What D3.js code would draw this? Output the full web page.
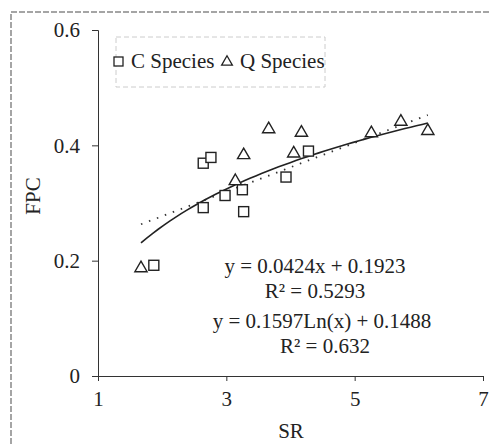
<!DOCTYPE html>
<html>
<head>
<meta charset="utf-8">
<script src="https://cdn.jsdelivr.net/npm/d3@7"></script>
<style>
  body { margin: 0; background: #fff; }
  svg text { font-family: "Liberation Serif", "DejaVu Serif", serif; }
</style>
</head>
<body>
<svg id="chart" width="491" height="444"></svg>
<script>
// C species (squares)
const cSR  = [1.87, 2.64, 2.76, 2.64, 2.98, 3.25, 3.27, 3.93, 4.28];
const cFPC = [0.192, 0.369, 0.379, 0.292, 0.313, 0.323, 0.285, 0.345, 0.390];
// Q species (triangles)
const qSR  = [1.67, 3.14, 3.27, 3.66, 4.05, 4.17, 5.26, 5.72, 6.14];
const qFPC = [0.187, 0.338, 0.383, 0.428, 0.386, 0.422, 0.421, 0.441, 0.425];

const xTicks = [1, 3, 5, 7];
const yTicks = [0, 0.2, 0.4, 0.6];

// trend lines
const linCoef = [0.0424, 0.1923];
const logCoef = [0.1597, 0.1488];
const labels = ["y = 0.0424x + 0.1923", "R² = 0.5293", "y = 0.1597Ln(x) + 0.1488", "R² = 0.632"];

const svg = d3.select("#chart"),
    width = +svg.attr("width"),
    height = +svg.attr("height");

const fs = "21px";

// outer frame (dashed, scanned look)
svg.append("path")
    .attr("d", "M11,444 L11,12 L491,12")
    .attr("fill", "none")
    .attr("stroke", "#888")
    .attr("stroke-width", 1.5)
    .attr("stroke-dasharray", "6,2");

const x = d3.scaleLinear().domain([1, 7]).range([98, 483]);
const y = d3.scaleLinear().domain([0, 0.6]).range([376, 30]);

// axes
svg.append("g")
    .attr("transform", "translate(0,376)")
    .call(d3.axisBottom(x).tickValues(xTicks).tickSize(5).tickPadding(10).tickFormat(d3.format("d")))
    .call(g => g.attr("font-family", null).attr("font-size", null))
    .call(g => g.selectAll("text").style("font-size", fs).attr("fill", "#222"))
    .call(g => g.selectAll("line,path").attr("stroke", "#333"));

svg.append("g")
    .attr("transform", "translate(98,0)")
    .call(d3.axisLeft(y).tickValues(yTicks).tickSize(6).tickPadding(12)
        .tickFormat(d => d === 0 ? "0" : d3.format(".1f")(d)))
    .call(g => g.attr("font-family", null).attr("font-size", null))
    .call(g => g.selectAll("text").style("font-size", fs).attr("fill", "#222"))
    .call(g => g.selectAll("line,path").attr("stroke", "#333"));

// axis titles
svg.append("text")
    .attr("x", 291).attr("y", 438)
    .attr("text-anchor", "middle")
    .style("font-size", fs).attr("fill", "#222")
    .text("SR");

svg.append("text")
    .attr("transform", "translate(40,196) rotate(-90)")
    .attr("text-anchor", "middle")
    .style("font-size", fs).attr("fill", "#222")
    .text("FPC");

// trend lines
const xMin = d3.min(qSR.concat(cSR)), xMax = d3.max(qSR.concat(cSR));
const xs = d3.range(0, 51).map(i => xMin + (xMax - xMin) * i / 50);
const line = d3.line().x(d => x(d[0])).y(d => y(d[1]));

svg.append("path")
    .datum(xs.map(v => [v, linCoef[0] * v + linCoef[1]]))
    .attr("d", line)
    .attr("fill", "none")
    .attr("stroke", "#333")
    .attr("stroke-width", 1.8)
    .attr("stroke-dasharray", "1.5,7");

svg.append("path")
    .datum(xs.map(v => [v, logCoef[0] * Math.log(v) + logCoef[1]]))
    .attr("d", line)
    .attr("fill", "none")
    .attr("stroke", "#222")
    .attr("stroke-width", 1.6);

// points
const cData = cSR.map((v, i) => [v, cFPC[i]]);
const qData = qSR.map((v, i) => [v, qFPC[i]]);

svg.append("g").selectAll("rect")
    .data(cData)
    .join("rect")
      .attr("x", d => x(d[0]) - 5)
      .attr("y", d => y(d[1]) - 5)
      .attr("width", 10).attr("height", 10)
      .attr("fill", "#fff")
      .attr("stroke", "#222")
      .attr("stroke-width", 1.4);

const tri = d3.symbol().type(d3.symbolTriangle).size(65);
svg.append("g").selectAll("path")
    .data(qData)
    .join("path")
      .attr("transform", d => `translate(${x(d[0])},${y(d[1])})`)
      .attr("d", tri)
      .attr("fill", "#fff")
      .attr("stroke", "#222")
      .attr("stroke-width", 1.4);

// legend
svg.append("rect")
    .attr("x", 116).attr("y", 37).attr("width", 209).attr("height", 50)
    .attr("fill", "none")
    .attr("stroke", "#ccc")
    .attr("stroke-dasharray", "5,3");

svg.append("rect")
    .attr("x", 114).attr("y", 57).attr("width", 9).attr("height", 9)
    .attr("fill", "#fff").attr("stroke", "#222").attr("stroke-width", 1.3);
svg.append("text")
    .attr("x", 131).attr("y", 68)
    .style("font-size", fs).attr("fill", "#222")
    .text("C Species");
svg.append("path")
    .attr("transform", "translate(227,62)")
    .attr("d", d3.symbol().type(d3.symbolTriangle).size(50))
    .attr("fill", "#fff").attr("stroke", "#222").attr("stroke-width", 1.3);
svg.append("text")
    .attr("x", 240).attr("y", 68)
    .style("font-size", fs).attr("fill", "#222")
    .text("Q Species");

// equations
const eqY = [273, 298, 328, 353];
const eqX = [315, 315, 322, 325];
svg.append("g").selectAll("text")
    .data(labels)
    .join("text")
      .attr("x", (d, i) => eqX[i])
      .attr("y", (d, i) => eqY[i])
      .attr("text-anchor", "middle")
      .style("font-size", fs)
      .attr("fill", "#222")
      .text(d => d);
</script>
</body>
</html>
